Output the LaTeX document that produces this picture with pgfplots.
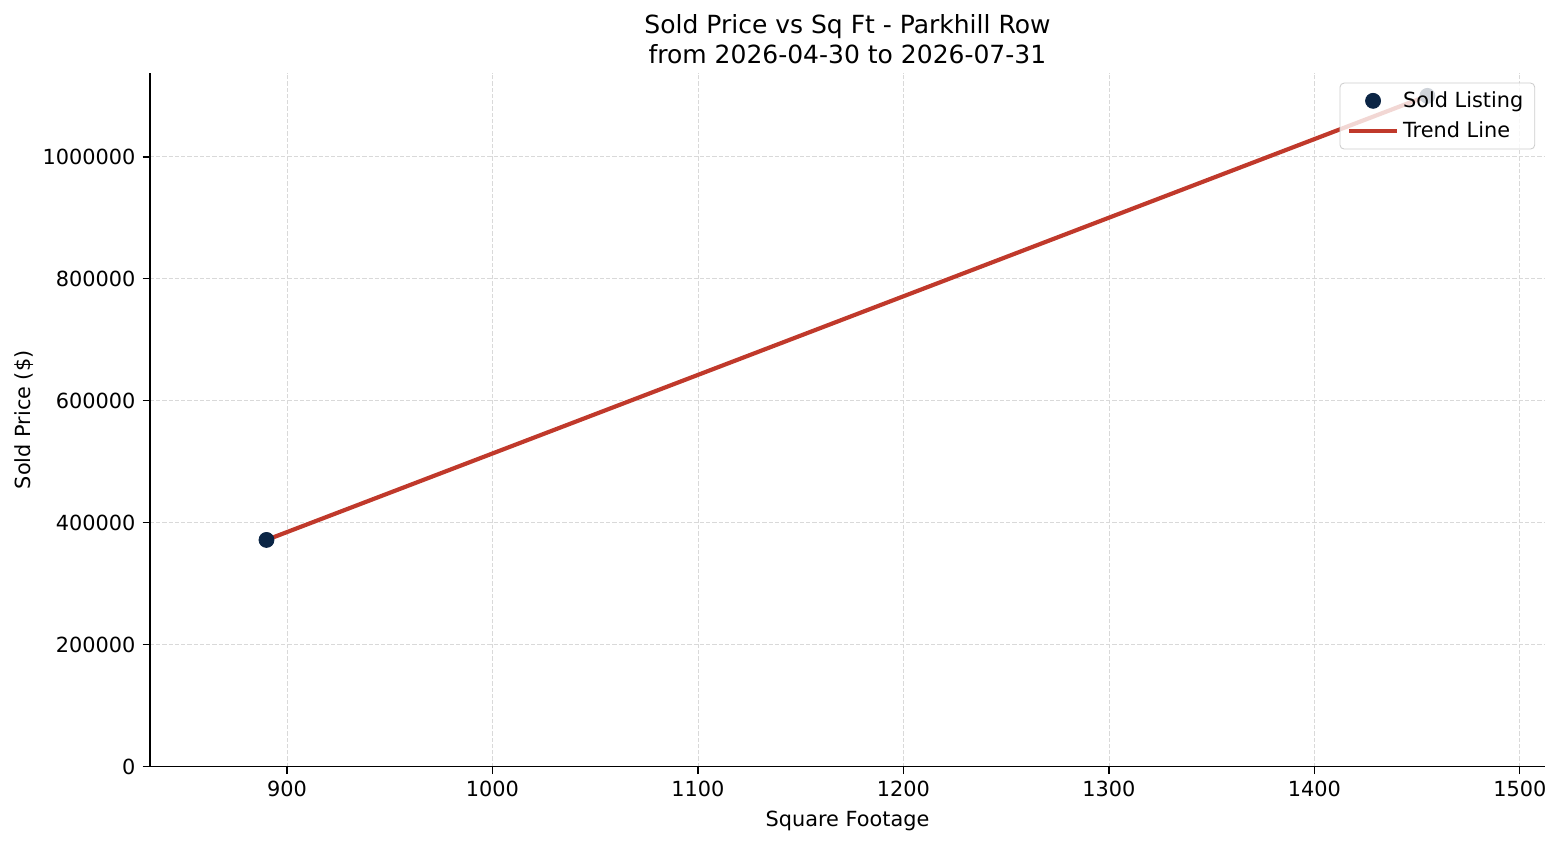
\documentclass[border=0pt]{standalone}
\usepackage{fontspec}
\setmainfont{DejaVu Sans}
\usepackage{pgfplots}
\pgfplotsset{compat=1.18}
\definecolor{navy}{HTML}{0B2545}
\definecolor{trend}{HTML}{C0392B}
\definecolor{gridc}{HTML}{D9D9D9}
\definecolor{legframe}{HTML}{CCCCCC}
\begin{document}
\begin{tikzpicture}
\begin{axis}[
  scale only axis,
  width=669.6pt, height=333.1pt,
  xmin=833.3, xmax=1512.2,
  ymin=0, ymax=1137700,
  axis x line*=bottom, axis y line*=left,
  axis line style={line width=0.6pt},
  tick align=outside,
  major tick length=3.5pt,
  tick style={black, line width=0.6pt},
  xtick={900,1000,...,1500},
  ytick={0,200000,...,1000000},
  scaled y ticks=false,
  /pgf/number format/fixed,
  /pgf/number format/1000 sep={},
  /pgf/number format/assume math mode=true,
  ticklabel style={font=\fontsize{10}{12}\selectfont},
  grid=major,
  major grid style={gridc, dash pattern=on 2pt off 1pt, line width=0.4pt},
  title={Sold Price vs Sq Ft - Parkhill Row\\from 2026-04-30 to 2026-07-31},
  title style={align=center, font=\fontsize{12}{14}\selectfont, yshift=-5pt},
  xlabel={Square Footage},
  ylabel={Sold Price (\$)},
  label style={font=\fontsize{10}{12}\selectfont},
  ylabel style={yshift=-2.5pt},
  legend style={at={(0.993,0.986)}, anchor=north east, draw=legframe, rounded corners=2pt,
    fill=white, fill opacity=0.8, text opacity=1, font=\fontsize{10}{12}\selectfont,
    row sep=1.5pt, inner xsep=3.5pt, inner ysep=2pt},
  legend image post style={fill opacity=1, draw opacity=1},
  legend image code/.code={\draw[mark repeat=2, mark phase=2]
    plot coordinates {(0cm,0cm) (0.4cm,0cm) (0.8cm,0cm)};},
  legend cell align=left,
  clip=false,
]
\addplot[only marks, mark=*, mark size=3.6pt, color=navy] coordinates {(890,372000) (1455,1100000)};
\addlegendentry{Sold Listing}
\addplot[trend, line width=2pt] coordinates {(890,372000) (1455,1100000)};
\addlegendentry{Trend Line}
\path (rel axis cs:0,0) ++(-72pt,-37.4pt) coordinate (bl);
\path (rel axis cs:1,1) ++(8.2pt,35pt) coordinate (tr);
\end{axis}
\useasboundingbox (bl) rectangle (tr);
\end{tikzpicture}
\end{document}
